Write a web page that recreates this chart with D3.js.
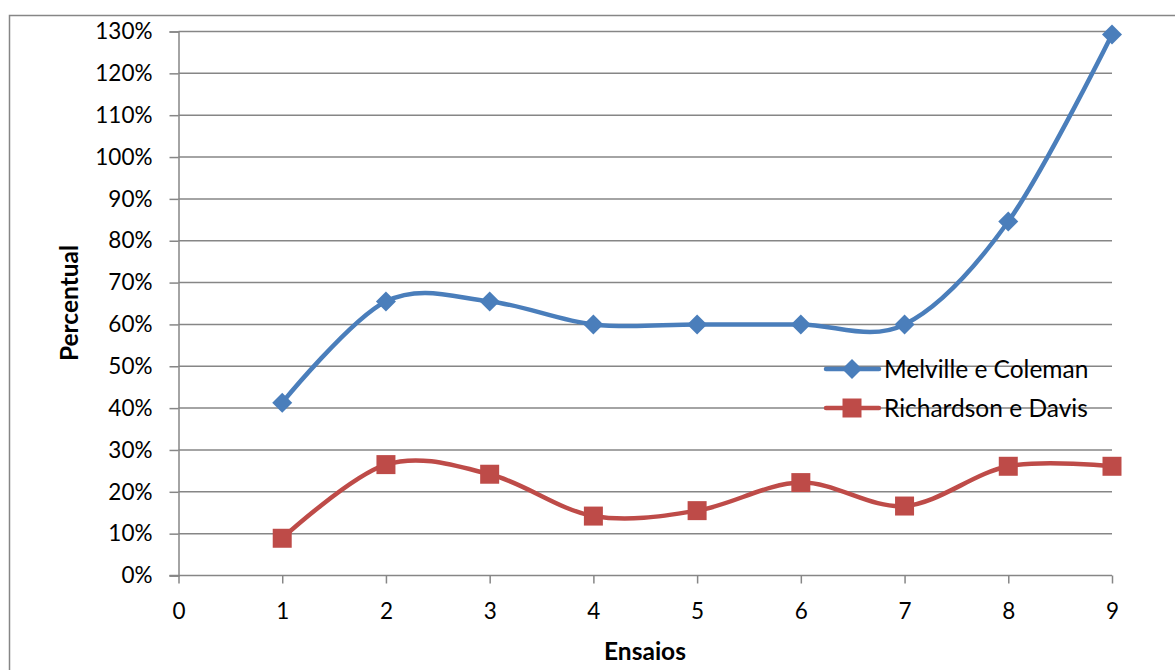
<!DOCTYPE html>
<html>
<head>
<meta charset="utf-8">
<script src="https://cdn.jsdelivr.net/npm/d3@7"></script>
<style>
  html, body { margin: 0; padding: 0; background: #fff; }
  svg { display: block; font-family: Lato, "Open Sans", sans-serif; }
</style>
</head>
<body>
<svg id="chart" width="1175" height="670"></svg>
<script>
const ensaios = [1, 2, 3, 4, 5, 6, 7, 8, 9];
const melville = [0.413, 0.655, 0.655, 0.60, 0.60, 0.60, 0.60, 0.846, 1.293];
const richardson = [0.089, 0.265, 0.242, 0.142, 0.155, 0.222, 0.166, 0.261, 0.261];
const xTicks = [0, 1, 2, 3, 4, 5, 6, 7, 8, 9];
const yTicks = [0, 0.1, 0.2, 0.3, 0.4, 0.5, 0.6, 0.7, 0.8, 0.9, 1.0, 1.1, 1.2, 1.3];
const seriesNames = ["Melville e Coleman", "Richardson e Davis"];

const svg = d3.select("#chart");
const gridColor = "#868686";
const blue = "#4A7EBB", red = "#BE4B48";

// outer border
svg.append("rect").attr("x", 9.5).attr("y", 15.5).attr("width", 1200).attr("height", 700)
  .attr("fill", "none").attr("stroke", "#868686").attr("stroke-width", 1.5);

const x = d3.scaleLinear().domain([0, 9]).range([178.5, 1112]);
const y = d3.scaleLinear().domain([0, 1.3]).range([575.5, 31.5]);

// gridlines
svg.append("g").selectAll("line").data(yTicks.slice(1)).join("line")
  .attr("x1", x(0)).attr("x2", x(9)).attr("y1", d => y(d)).attr("y2", d => y(d))
  .attr("stroke", gridColor).attr("stroke-width", 1.5);

// y axis
const yAxis = d3.axisLeft(y).tickValues(yTicks).tickFormat(d => Math.round(d * 100) + "%")
  .tickSize(9).tickPadding(17);
const gy = svg.append("g").attr("transform", `translate(${x(0)},0)`).call(yAxis);
gy.select(".domain").attr("stroke", gridColor).attr("stroke-width", 1.5);
gy.selectAll(".tick line").attr("stroke", gridColor).attr("stroke-width", 1.5);
gy.selectAll(".tick text").attr("font-size", 22.5).attr("fill", "#000").attr("font-family", "Lato, sans-serif");

// x axis
const xAxis = d3.axisBottom(x).tickValues(xTicks).tickFormat(d3.format("d"))
  .tickSize(8).tickPadding(20);
const gx = svg.append("g").attr("transform", `translate(0,${y(0)})`).call(xAxis);
gx.select(".domain").attr("stroke", gridColor).attr("stroke-width", 1.5)
  .attr("d", `M${x(0) - 9},0H${x(9)}`);
gx.selectAll(".tick line").attr("stroke", gridColor).attr("stroke-width", 1.5);
gx.selectAll(".tick text").attr("font-size", 22.5).attr("fill", "#000").attr("font-family", "Lato, sans-serif");

// axis titles
svg.append("text").attr("transform", "translate(78,303) rotate(-90)")
  .attr("text-anchor", "middle").attr("font-weight", "bold").attr("font-size", 24.5)
  .text("Percentual");
svg.append("text").attr("x", 645).attr("y", 660)
  .attr("text-anchor", "middle").attr("font-weight", "bold").attr("font-size", 24.5)
  .text("Ensaios");

const line = d3.line().x(d => x(d[0])).y(d => y(d[1])).curve(d3.curveCardinal.tension(0));

function drawSeries(vals, color, shape) {
  const pts = ensaios.map((e, i) => [e, vals[i]]);
  svg.append("path").datum(pts).attr("d", line).attr("fill", "none")
    .attr("stroke", color).attr("stroke-width", 4.5).attr("stroke-linecap", "round");
  const sym = d3.symbol().type(d3.symbolSquare).size(shape === "diamond" ? 200 : 361);
  svg.append("g").selectAll("path").data(pts).join("path")
    .attr("d", sym)
    .attr("transform", d => `translate(${x(d[0])},${y(d[1])})` + (shape === "diamond" ? " rotate(45)" : ""))
    .attr("fill", color);
}
drawSeries(melville, blue, "diamond");
drawSeries(richardson, red, "square");

// legend
const legend = svg.append("g");
[[seriesNames[0], blue, "diamond", 369], [seriesNames[1], red, "square", 408]].forEach(([name, color, shape, ly]) => {
  legend.append("line").attr("x1", 826).attr("x2", 879).attr("y1", ly).attr("y2", ly)
    .attr("stroke", color).attr("stroke-width", 4.5).attr("stroke-linecap", "round");
  const sym = d3.symbol().type(d3.symbolSquare).size(shape === "diamond" ? 200 : 361);
  legend.append("path").attr("d", sym)
    .attr("transform", `translate(852,${ly})` + (shape === "diamond" ? " rotate(45)" : ""))
    .attr("fill", color);
  legend.append("text").attr("x", 884).attr("y", ly).attr("dy", "0.35em")
    .attr("font-size", 24.5).attr("fill", "#000").text(name);
});
</script>
</body>
</html>
